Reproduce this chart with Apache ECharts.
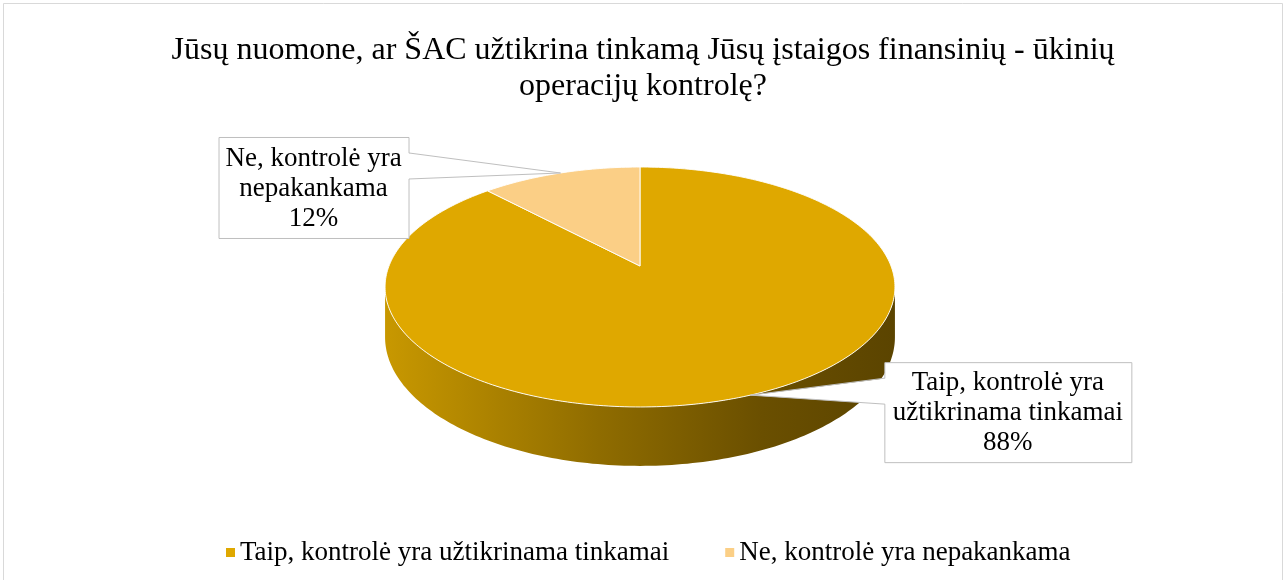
<!DOCTYPE html>
<html><head><meta charset="utf-8">
<script src="https://cdn.jsdelivr.net/npm/echarts@6/dist/echarts.min.js"></script>
<style>html,body{margin:0;padding:0;background:#fff}#chart{width:1286px;height:580px}</style>
</head><body><div id="chart"></div>
<script>
// ---- data ----
const titleText = 'Jūsų nuomone, ar ŠAC užtikrina tinkamą Jūsų įstaigos finansinių - ūkinių\noperacijų kontrolę?';
const categories = ['Taip, kontrolė yra užtikrinama tinkamai', 'Ne, kontrolė yra nepakankama'];
const values = [88, 12];
const labelTexts = ['Taip, kontrolė yra\nužtikrinama tinkamai', 'Ne, kontrolė yra\nnepakankama'];
const colors = ['#DFA800', '#FBCF86'];

// ---- layout (not data) ----
const CX = 640, CY = 266, RX = 251, RY = 116.3, P = 0.175, DEPTH = 48.6;
const boxSize = [[247, 100], [190, 101]];
const boxOffset = [[134, -33], [-152, -36]]; // from anchor: x to facing edge, y to top
const FONT = '"Liberation Serif", "Times New Roman", serif';

function proj(deg, drop) {
  const t = deg * Math.PI / 180;
  const u = Math.sin(t), v = Math.cos(t);
  const s = 1 / (1 + P * v);
  return [CX + RX * u * s, CY - RY * v * s + (drop ? DEPTH * s : 0)];
}

const sideGradient = new echarts.graphic.LinearGradient(CX - 255, 0, CX + 255, 0, [
  { offset: 0, color: '#C89800' },
  { offset: 0.42, color: '#8F6C00' },
  { offset: 0.74, color: '#6A4F00' },
  { offset: 1, color: '#5B4400' }
], true);

function makeRender(i) {
  return function (params, api) {
    const total = values.reduce((a, b) => a + b, 0);
    let acc = 0;
    for (let k = 0; k < i; k++) acc += values[k];
    const v = api.value(0);
    const a0 = acc / total * 360, a1 = (acc + v) / total * 360;
    const children = [];
    // top face
    const pts = [[CX, CY]];
    const n = Math.max(2, Math.ceil(a1 - a0));
    for (let j = 0; j <= n; j++) pts.push(proj(a0 + (a1 - a0) * j / n));
    children.push({ type: 'polygon', z2: 10, shape: { points: pts },
      style: { fill: colors[i], stroke: 'rgba(255,255,255,0.9)', lineWidth: 1 } });
    // side wall (front visible part)
    const th = Math.acos(-P) * 180 / Math.PI;
    const s0 = Math.max(a0, th), s1 = Math.min(a1, 360 - th);
    if (s1 > s0) {
      const top = [], bot = [];
      const m = Math.max(2, Math.ceil(s1 - s0));
      for (let j = 0; j <= m; j++) {
        const a = s0 + (s1 - s0) * j / m;
        top.push(proj(a, false));
        bot.push(proj(a, true));
      }
      children.push({ type: 'polygon', z2: 0, shape: { points: top.concat(bot.reverse()) },
        style: { fill: sideGradient } });
    }
    // label callout
    const mid = (a0 + a1) / 2;
    const anc = proj(mid, false);
    const w = boxSize[i][0], h = boxSize[i][1];
    const right = anc[0] > CX;
    const edgeX = anc[0] + boxOffset[i][0];
    const bx = right ? edgeX : edgeX - w;
    const by = anc[1] + boxOffset[i][1];
    children.push({ type: 'rect', z2: 20, shape: { x: bx + 0.5, y: by + 0.5, width: w, height: h },
      style: { fill: '#fff', stroke: '#BFBFBF', lineWidth: 1 } });
    const ex = right ? bx + 0.5 : bx + w + 0.5;
    const inset = right ? 1.5 : -1.5;
    children.push({ type: 'polygon', z2: 21, shape: { points: [[ex + inset, by + 16], anc, [ex + inset, by + 42]] },
      style: { fill: '#fff' } });
    children.push({ type: 'polyline', z2: 22, shape: { points: [[ex, by + 16], anc, [ex, by + 42]] },
      style: { stroke: '#BFBFBF', lineWidth: 1, fill: null } });
    children.push({ type: 'text', z2: 23, x: bx + w / 2, y: by + h / 2 + 1,
      style: { text: labelTexts[i] + '\n' + Math.round(v / total * 100) + '%',
        font: '27px ' + FONT, fill: '#000', align: 'center', verticalAlign: 'middle', lineHeight: 30 } });
    return { type: 'group', children };
  };
}

const chart = echarts.init(document.getElementById('chart'), null, { renderer: 'canvas' });
chart.setOption({
  animation: false,
  backgroundColor: '#fff',
  title: {
    text: titleText, left: 'center', top: 28,
    textStyle: { fontFamily: FONT, fontSize: 32, fontWeight: 'normal', color: '#000', lineHeight: 36 }
  },
  legend: {
    data: categories, left: 221, top: 534, icon: 'rect', itemWidth: 9, itemHeight: 9, itemGap: 56,
    textStyle: { fontFamily: FONT, fontSize: 27, color: '#000' }
  },
  graphic: [{ type: 'rect', shape: { x: 3.5, y: 3.5, width: 1279, height: 590 },
    style: { fill: null, stroke: '#D9D9D9', lineWidth: 1 }, silent: true }],
  series: categories.map((name, i) => ({
    type: 'custom', name, coordinateSystem: 'none',
    itemStyle: { color: colors[i] },
    data: [[values[i]]],
    renderItem: makeRender(i)
  }))
});
</script></body></html>
